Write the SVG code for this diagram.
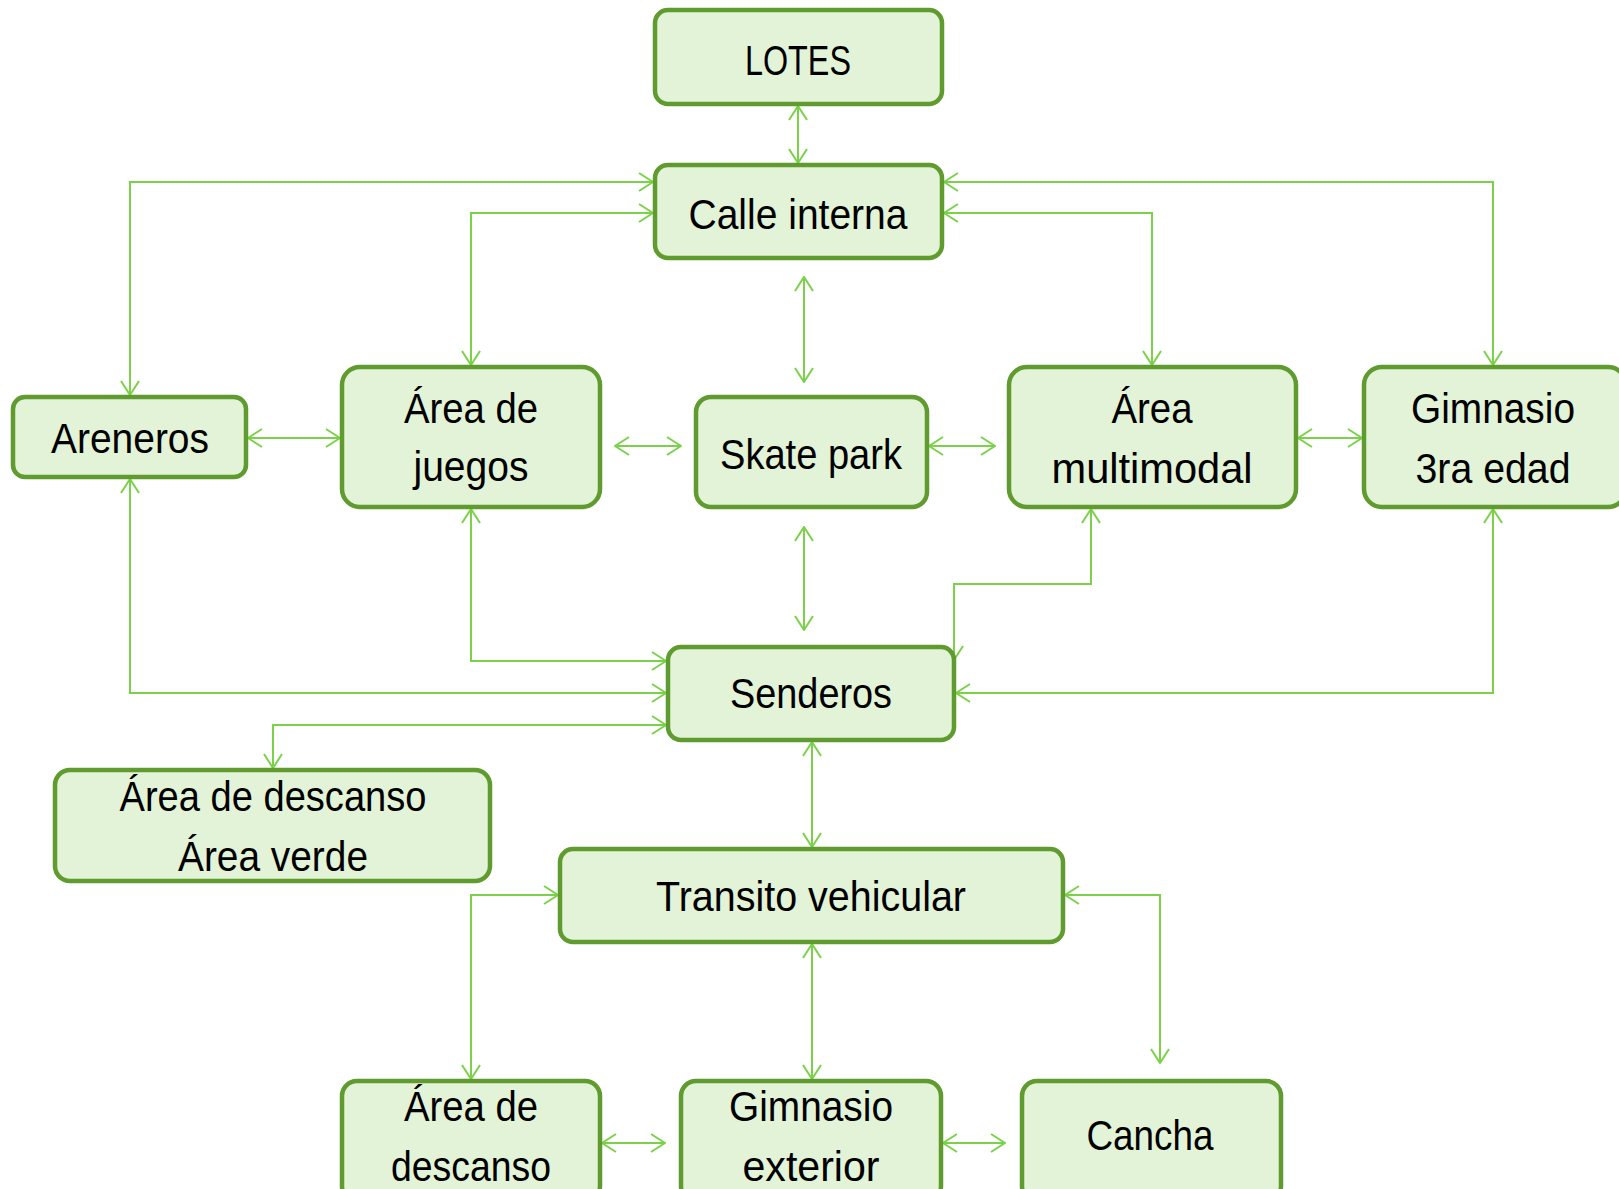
<svg xmlns="http://www.w3.org/2000/svg" width="1619" height="1189" viewBox="0 0 1619 1189">
<style>
.box{fill:#E2F3D7;stroke:#5F9B2E;stroke-width:4.5}
.lbl{font-family:"Liberation Sans",Arial,sans-serif;font-size:42px;fill:#000;text-anchor:middle}
.con{fill:none;stroke:#7BD24A;stroke-width:2;marker-start:url(#ah);marker-end:url(#ah)}
</style>
<defs>
<marker id="ah" viewBox="0 0 16 20" refX="15" refY="10" markerWidth="16" markerHeight="20" markerUnits="userSpaceOnUse" orient="auto-start-reverse">
<path d="M1,1 L15,10 L1,19" fill="none" stroke="#7BD24A" stroke-width="2"/>
</marker>
</defs>
<rect width="1619" height="1189" fill="#fff"/>
<g id="connectors">
<path class="con" d="M798,106 V163"/>
<path class="con" d="M653,182 H130 V395"/>
<path class="con" d="M653,213 H471 V365"/>
<path class="con" d="M944,182 H1493 V365"/>
<path class="con" d="M944,213 H1152 V365"/>
<path class="con" d="M804,277 V382"/>
<path class="con" d="M248,438 H340"/>
<path class="con" d="M615,446 H681"/>
<path class="con" d="M929,446 H995"/>
<path class="con" d="M1298,438 H1362"/>
<path class="con" d="M804,527 V630"/>
<path class="con" d="M471,509 V661 H666"/>
<path class="con" d="M130,479 V693 H666"/>
<path class="con" d="M666,725 H273 V768"/>
<path class="con" d="M1091,509 V584 H954 V660"/>
<path class="con" d="M1493,509 V693 H956"/>
<path class="con" d="M812,742 V847"/>
<path class="con" d="M558,895 H471 V1079"/>
<path class="con" d="M1065,895 H1160 V1063"/>
<path class="con" d="M812,944 V1079"/>
<path class="con" d="M602,1143 H665"/>
<path class="con" d="M943,1143 H1005"/>
</g>
<g id="lotes"><rect class="box" x="655" y="10" width="287" height="94" rx="13"/><text class="lbl" x="798" y="75" textLength="106" lengthAdjust="spacingAndGlyphs">LOTES</text></g>
<g id="calle-interna"><rect class="box" x="655" y="165" width="287" height="93" rx="13"/><text class="lbl" x="798" y="229" textLength="219" lengthAdjust="spacingAndGlyphs">Calle interna</text></g>
<g id="areneros"><rect class="box" x="13" y="397" width="233" height="80" rx="12"/><text class="lbl" x="130" y="453" textLength="158" lengthAdjust="spacingAndGlyphs">Areneros</text></g>
<g id="area-juegos"><rect class="box" x="342" y="367" width="258" height="140" rx="18"/><text class="lbl" x="471" y="423" textLength="134" lengthAdjust="spacingAndGlyphs">Área de</text><text class="lbl" x="471" y="481" textLength="115" lengthAdjust="spacingAndGlyphs">juegos</text></g>
<g id="skate-park"><rect class="box" x="696" y="397" width="231" height="110" rx="15"/><text class="lbl" x="811" y="469" textLength="182" lengthAdjust="spacingAndGlyphs">Skate park</text></g>
<g id="area-multimodal"><rect class="box" x="1009" y="367" width="287" height="140" rx="18"/><text class="lbl" x="1152" y="423" textLength="81" lengthAdjust="spacingAndGlyphs">Área</text><text class="lbl" x="1152" y="483" textLength="201" lengthAdjust="spacingAndGlyphs">multimodal</text></g>
<g id="gimnasio-3ra-edad"><rect class="box" x="1364" y="367" width="262" height="140" rx="18"/><text class="lbl" x="1493" y="423" textLength="164" lengthAdjust="spacingAndGlyphs">Gimnasio</text><text class="lbl" x="1493" y="483" textLength="155" lengthAdjust="spacingAndGlyphs">3ra edad</text></g>
<g id="senderos"><rect class="box" x="668" y="647" width="286" height="93" rx="13"/><text class="lbl" x="811" y="708" textLength="162" lengthAdjust="spacingAndGlyphs">Senderos</text></g>
<g id="area-descanso-verde"><rect class="box" x="55" y="770" width="435" height="111" rx="15"/><text class="lbl" x="273" y="811" textLength="307" lengthAdjust="spacingAndGlyphs">Área de descanso</text><text class="lbl" x="273" y="871" textLength="190" lengthAdjust="spacingAndGlyphs">Área verde</text></g>
<g id="transito-vehicular"><rect class="box" x="560" y="849" width="503" height="93" rx="13"/><text class="lbl" x="811" y="911" textLength="310" lengthAdjust="spacingAndGlyphs">Transito vehicular</text></g>
<g id="area-descanso"><rect class="box" x="342" y="1081" width="258" height="120" rx="15"/><text class="lbl" x="471" y="1121" textLength="134" lengthAdjust="spacingAndGlyphs">Área de</text><text class="lbl" x="471" y="1181" textLength="160" lengthAdjust="spacingAndGlyphs">descanso</text></g>
<g id="gimnasio-exterior"><rect class="box" x="681" y="1081" width="260" height="120" rx="15"/><text class="lbl" x="811" y="1121" textLength="164" lengthAdjust="spacingAndGlyphs">Gimnasio</text><text class="lbl" x="811" y="1181" textLength="137" lengthAdjust="spacingAndGlyphs">exterior</text></g>
<g id="cancha"><rect class="box" x="1022" y="1081" width="259" height="120" rx="15"/><text class="lbl" x="1150" y="1150" textLength="127" lengthAdjust="spacingAndGlyphs">Cancha</text></g>
</svg>
